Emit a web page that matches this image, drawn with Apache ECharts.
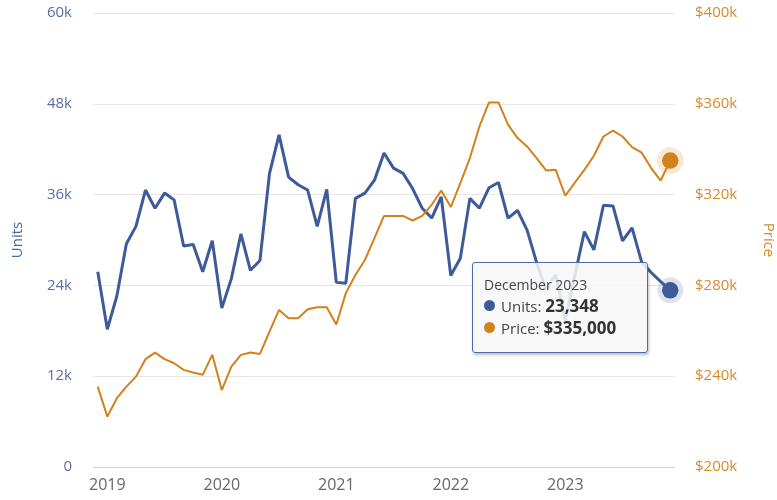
<!DOCTYPE html>
<html lang="en">

<head>
    <meta charset="UTF-8">
    <title>Units and Price</title>
    <script src="https://cdn.jsdelivr.net/npm/echarts@6/dist/echarts.min.js"></script>
    <style>
        body { margin: 0; background: #fff; }
        #chart { width: 777px; height: 500px; }
    </style>
</head>

<body>
    <div id="chart"></div>
    <script>
        // months, Dec 2018 .. Dec 2023
        var categories = [
            'December 2018',
            'January 2019', 'February 2019', 'March 2019', 'April 2019', 'May 2019', 'June 2019',
            'July 2019', 'August 2019', 'September 2019', 'October 2019', 'November 2019', 'December 2019',
            'January 2020', 'February 2020', 'March 2020', 'April 2020', 'May 2020', 'June 2020',
            'July 2020', 'August 2020', 'September 2020', 'October 2020', 'November 2020', 'December 2020',
            'January 2021', 'February 2021', 'March 2021', 'April 2021', 'May 2021', 'June 2021',
            'July 2021', 'August 2021', 'September 2021', 'October 2021', 'November 2021', 'December 2021',
            'January 2022', 'February 2022', 'March 2022', 'April 2022', 'May 2022', 'June 2022',
            'July 2022', 'August 2022', 'September 2022', 'October 2022', 'November 2022', 'December 2022',
            'January 2023', 'February 2023', 'March 2023', 'April 2023', 'May 2023', 'June 2023',
            'July 2023', 'August 2023', 'September 2023', 'October 2023', 'November 2023', 'December 2023'
        ];

        // units sold
        var units = [
            25800,
            18200, 22600, 29500, 31800, 36600, 34200, 36200, 35300, 29200, 29400, 25800, 29900,
            21000, 24900, 30800, 26000, 27300, 38800, 43900, 38300, 37300, 36600, 31800, 36700,
            24400, 24300, 35500, 36200, 37900, 41500, 39500, 38800, 36800, 34200, 32900, 35700,
            25300, 27600, 35500, 34200, 36900, 37600, 32900, 33900, 31300, 27000, 23400, 25400,
            19400, 25300, 31100, 28700, 34600, 34500, 29900, 31600, 27100, 25700, 24500, 23348
        ];

        // median price
        var price = [
            235400,
            222200, 230300, 235400, 239800, 247500, 250400, 247500, 245700, 242800, 241600, 240600, 249400,
            233900, 244200, 249400, 250400, 249800, 259600, 269200, 265500, 265500, 269500, 270400, 270400,
            262800, 276600, 284600, 291200, 300800, 310600, 310600, 310600, 308600, 310600, 315500, 321800,
            314500, 325100, 336100, 350000, 360600, 360600, 350800, 344900, 341200, 336100, 330600, 330900,
            319500, 325300, 330900, 337100, 345600, 348200, 345600, 340900, 338500, 331700, 326200, 335000
        ];

        var unitsTicks = { min: 0, max: 60000, step: 12000 };
        var priceTicks = { min: 200000, max: 400000, step: 40000 };

        var blue = '#3e5a99';
        var orange = '#d2821a';
        var font = 'Open Sans';
        var last = categories.length - 1;

        var chart = echarts.init(document.getElementById('chart'));

        function isJanuary(idx, val) {
            return String(val).indexOf('January') === 0;
        }

        function dot(color) {
            return '<span style="display:inline-block;width:11px;height:11px;border-radius:6px;background:' +
                color + ';margin-right:6px;vertical-align:1px"></span>';
        }

        var option = {
            animation: false,
            textStyle: { fontFamily: font },
            grid: { left: 93, right: 102, top: 13, bottom: 33, outerBoundsMode: 'none', containLabel: false },
            tooltip: {
                trigger: 'axis',
                alwaysShowContent: true,
                transitionDuration: 0,
                position: [472, 262],
                axisPointer: { type: 'none', triggerEmphasis: false },
                backgroundColor: 'rgba(247,247,247,0.86)',
                borderColor: '#5069a3',
                borderWidth: 1.5,
                borderRadius: 3,
                padding: [11, 13, 13, 11],
                extraCssText: 'box-shadow:1px 2px 3px rgba(0,0,0,0.25);line-height:21px;min-width:150px;',
                textStyle: { fontFamily: font, color: '#444', fontSize: 15 },
                formatter: function (params) {
                    var i = params[0].dataIndex;
                    return '<div style="font-size:14px;color:#444">' + categories[i] + '</div>' +
                        '<div>' + dot(blue) + 'Units: <b style="font-size:17px;color:#333">' +
                        units[i].toLocaleString('en-US') + '</b></div>' +
                        '<div>' + dot(orange) + 'Price: <b style="font-size:17px;color:#333">$' +
                        price[i].toLocaleString('en-US') + '</b></div>';
                }
            },
            xAxis: {
                type: 'category',
                data: categories,
                boundaryGap: true,
                axisLine: { lineStyle: { color: '#ccd6eb', width: 1 } },
                axisTick: {
                    alignWithLabel: true,
                    interval: isJanuary,
                    length: 12,
                    lineStyle: { color: '#ccd6eb' }
                },
                axisLabel: {
                    interval: isJanuary,
                    formatter: function (v) { return v.split(' ')[1]; },
                    color: '#666',
                    fontSize: 16,
                    margin: 10
                }
            },
            yAxis: [{
                type: 'value',
                position: 'left',
                min: unitsTicks.min,
                max: unitsTicks.max,
                interval: unitsTicks.step,
                name: 'Units',
                nameLocation: 'middle',
                nameGap: 68,
                nameTextStyle: { color: '#4a66a8', fontSize: 15 },
                axisLine: { show: false },
                axisTick: { show: false },
                axisLabel: {
                    color: '#5b6ea3',
                    fontSize: 15,
                    margin: 21,
                    formatter: function (v) { return v === 0 ? '0' : (v / 1000) + 'k'; }
                },
                splitLine: { lineStyle: { color: '#e6e6e6' } }
            }, {
                type: 'value',
                position: 'right',
                min: priceTicks.min,
                max: priceTicks.max,
                interval: priceTicks.step,
                name: 'Price',
                nameLocation: 'middle',
                nameRotate: -90,
                nameGap: 86,
                nameTextStyle: { color: '#d68a2c', fontSize: 15 },
                axisLine: { show: false },
                axisTick: { show: false },
                axisLabel: {
                    color: '#d68a2c',
                    fontSize: 15,
                    margin: 20,
                    formatter: function (v) { return '$' + (v / 1000) + 'k'; }
                },
                splitLine: { show: false }
            }],
            series: [{
                name: 'Units',
                type: 'line',
                yAxisIndex: 0,
                data: units,
                z: 3,
                lineStyle: { color: blue, width: 3 },
                itemStyle: { color: blue },
                showSymbol: true,
                showAllSymbol: true,
                symbol: 'circle',
                symbolSize: function (v, p) { return p.dataIndex === last ? 15 : 0; },
                emphasis: { disabled: true }
            }, {
                name: 'Price',
                type: 'line',
                yAxisIndex: 1,
                data: price,
                z: 3,
                lineStyle: { color: orange, width: 2 },
                itemStyle: { color: orange },
                showSymbol: true,
                showAllSymbol: true,
                symbol: 'circle',
                symbolSize: function (v, p) { return p.dataIndex === last ? 15 : 0; },
                emphasis: { disabled: true }
            }, {
                // halo round the last units point
                type: 'scatter',
                yAxisIndex: 0,
                z: 1,
                symbolSize: 26,
                silent: true,
                tooltip: { show: false },
                itemStyle: { color: 'rgba(62,90,153,0.22)' },
                data: [[last, units[last]]]
            }, {
                // halo round the last price point
                type: 'scatter',
                yAxisIndex: 1,
                z: 1,
                symbolSize: 27,
                silent: true,
                tooltip: { show: false },
                itemStyle: { color: 'rgba(210,130,26,0.22)' },
                data: [[last, price[last]]]
            }]
        };

        chart.setOption(option);
        chart.dispatchAction({ type: 'showTip', seriesIndex: 0, dataIndex: last });
    </script>
</body>

</html>
